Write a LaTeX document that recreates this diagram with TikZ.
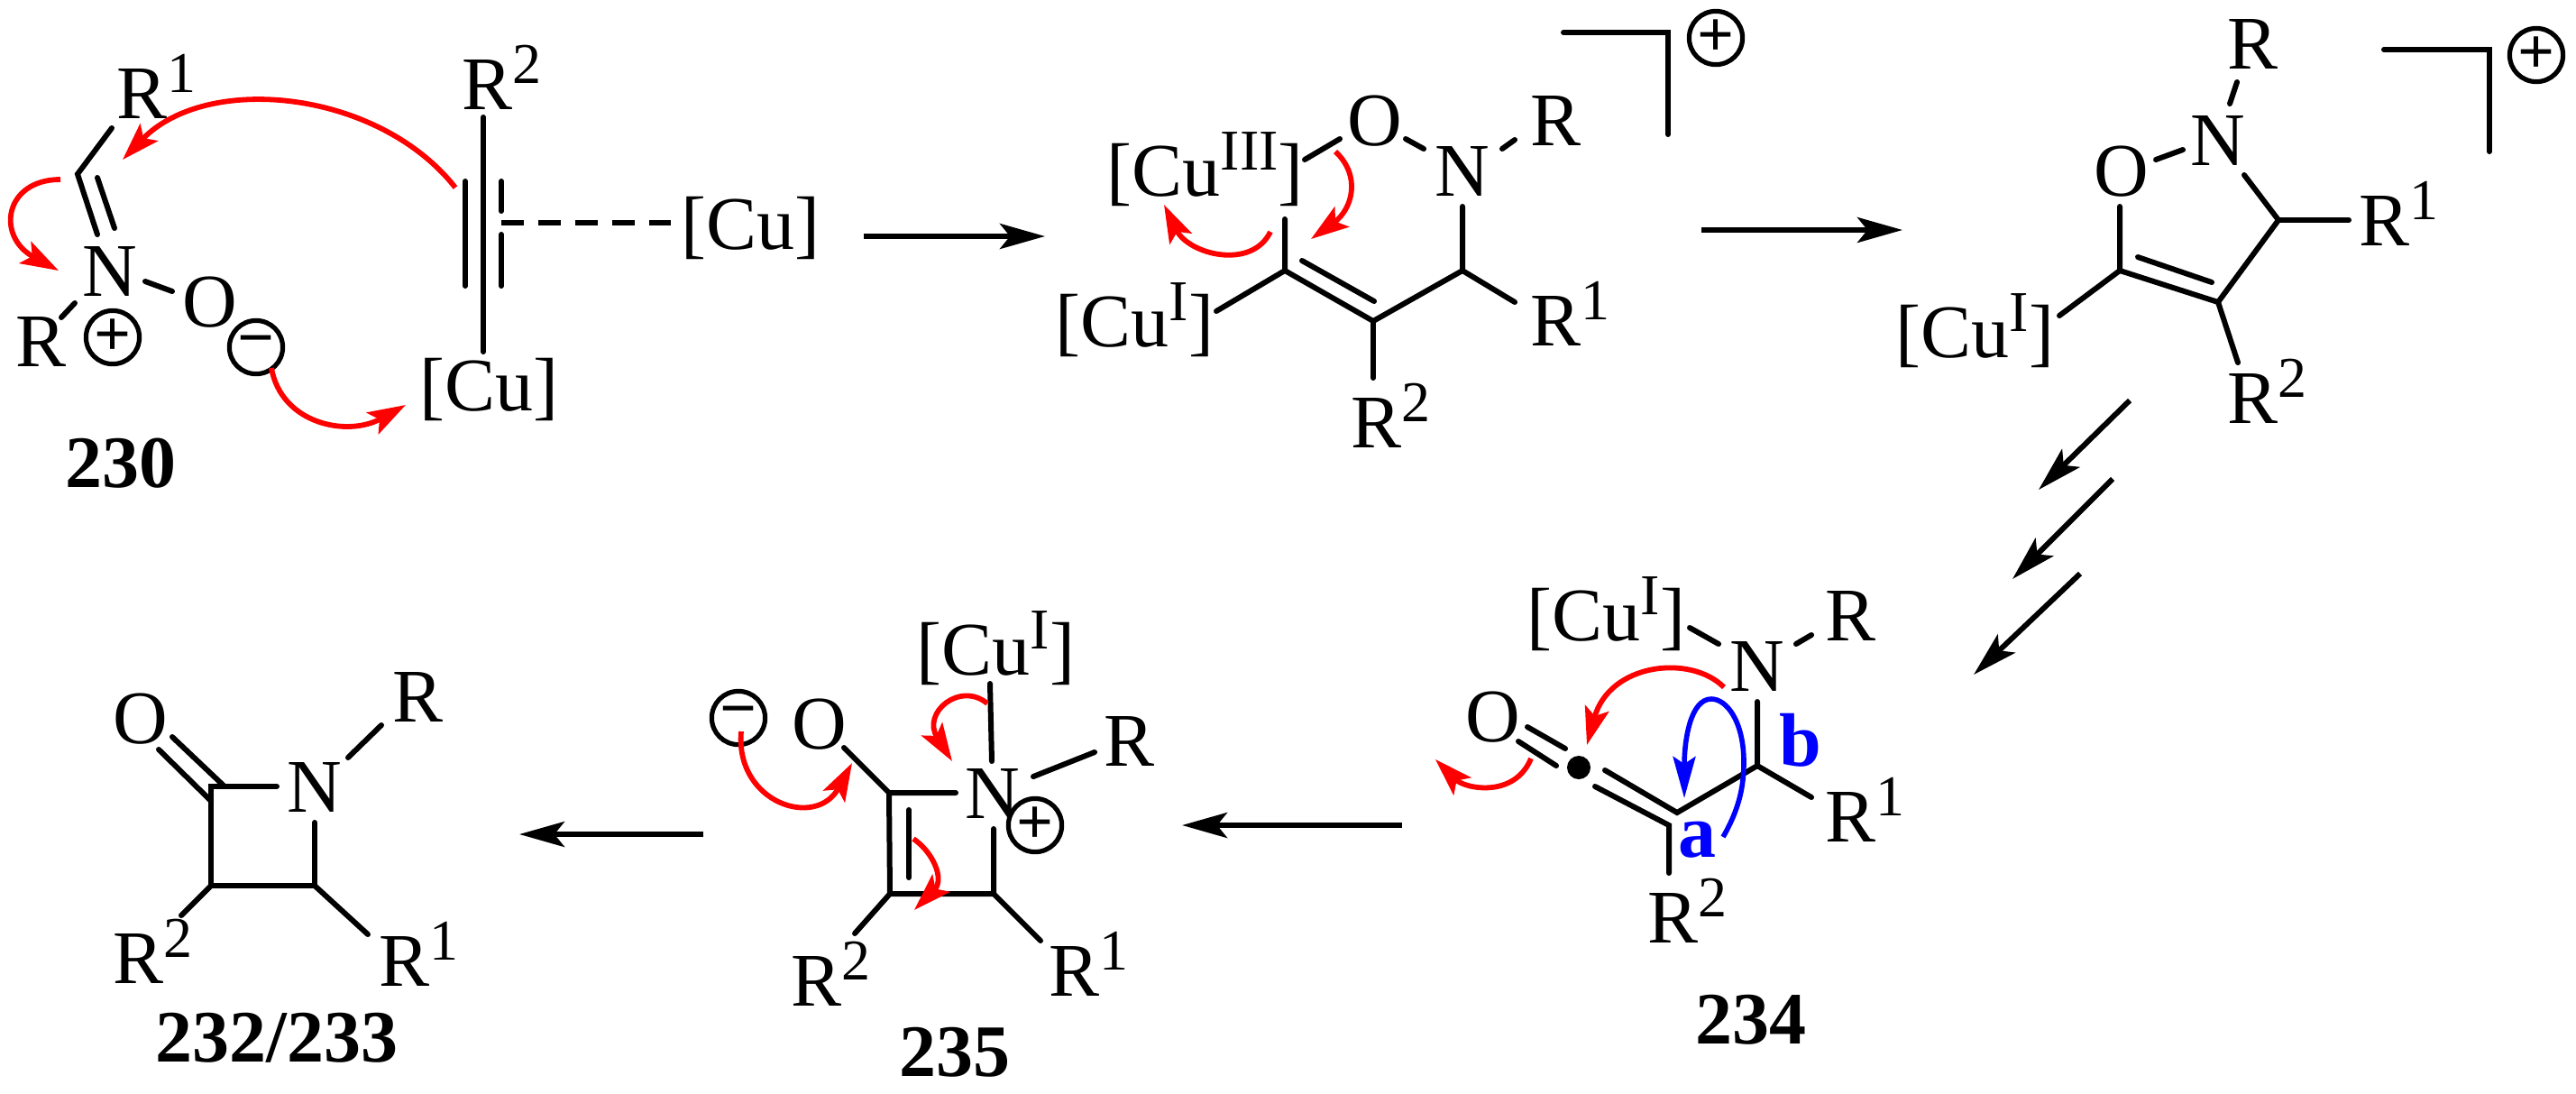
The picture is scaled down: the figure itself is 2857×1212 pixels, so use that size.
\documentclass[tikz,border=0pt]{standalone}
\usepackage{fontspec}
\setmainfont{Liberation Serif}
\usetikzlibrary{arrows.meta}
\definecolor{cred}{RGB}{255,0,0}
\definecolor{cblue}{RGB}{0,0,255}
\newcommand{\Sp}[1]{\raisebox{7.1pt}{\fontsize{16}{16}\selectfont #1}}
\tikzset{
  x=0.25pt,y=-0.25pt,
  atom/.style={anchor=base west,inner sep=0pt,font=\fontsize{21}{24}\selectfont},
  cmpd/.style={anchor=base west,inner sep=0pt,font=\fontsize{20.5}{24}\selectfont\bfseries},
  lett/.style={anchor=base west,inner sep=0pt,text=cblue,font=\fontsize{21}{24}\selectfont\bfseries},
  bond/.style={draw=black,line width=1.5pt,line cap=round,line join=miter},
  dashbond/.style={draw=black,line width=1.6pt,dash pattern=on 6.25pt off 4pt},
  rxn/.style={draw=black,line width=1.5pt,-{Stealth[length=12.5pt,width=7pt,inset=2.8pt]}},
  redarr/.style={draw=cred,line width=1.45pt,-{Stealth[length=10.5pt,width=6.8pt,inset=2.2pt]}},
  bluearr/.style={draw=cblue,line width=1.4pt,-{Stealth[length=11.5pt,width=6.2pt,inset=2pt]}},
  chg/.style={circle,draw=black,line width=1.3pt,inner sep=0pt,minimum size=14.8pt,font=\fontsize{18}{18}\selectfont\bfseries},
}
\begin{document}
\begin{tikzpicture}
\useasboundingbox (0,0) rectangle (2857,1212);
% ---- 230
\node[atom] (a1) at (129,131) {R\Sp{1}};
\node[atom] (a2) at (512,121) {R\Sp{2}};
\node[atom] (a3) at (91,328) {N};
\node[atom] (a4) at (202,362) {O};
\node[atom] (a5) at (17,406) {R};
\node[atom] (a6) at (755,276) {[Cu]};
\node[atom] (a7) at (465,455) {[Cu]};
\node[cmpd] (a8) at (72,540) {230};
\node[chg] (a9) at (125,374) {+};
\node[chg] (a10) at (284,385) {−};
\draw[bond] (124,142) -- (86,193) -- (108,260);
\draw[bond] (108,197) -- (127,253);
\draw[bond] (161,312) -- (191,323);
\draw[bond] (83,336) -- (68,352);
\draw[bond] (536,130) -- (536,390);
\draw[bond] (516,201) -- (516,317);
\draw[bond] (556,201) -- (556,234);
\draw[bond] (556,260) -- (556,317);
\draw[dashbond] (556,247) -- (744,247);
\draw[redarr] (505,208) .. controls (420,100) and (230,80) .. (136,177);
\draw[redarr] (67,199) .. controls (5,199) and (-5,262) .. (65,300);
\draw[redarr] (301,408) .. controls (312,470) and (385,485) .. (450,449);
% ---- intermediate 2
\coordinate (r1s) at (958,262);
\coordinate (r1e) at (1159,262);
\draw[rxn] (r1s) -- (r1e);
\node[atom] (b1) at (1227,217) {[Cu\Sp{III}]};
\node[atom] (b2) at (1494,161) {O};
\node[atom] (b3) at (1591,217) {N};
\node[atom] (b4) at (1697,161) {R};
\node[atom] (b5) at (1170,384) {[Cu\Sp{I}]};
\node[atom] (b6) at (1697,383) {R\Sp{1}};
\node[atom] (b7) at (1498,496) {R\Sp{2}};
\node[chg] (b8) at (1903,42) {+};
\draw[bond] (1734,36) -- (1850,36) -- (1850,149);
\draw[bond] (1447,177) -- (1486,154);
\draw[bond] (1559,154) -- (1579,165);
\draw[bond] (1666,165) -- (1680,155);
\draw[bond] (1622,229) -- (1622,300) -- (1523,356) -- (1425,300) -- (1425,243);
\draw[bond] (1444,289) -- (1524,334);
\draw[bond] (1425,300) -- (1349,345);
\draw[bond] (1622,300) -- (1680,335);
\draw[bond] (1523,356) -- (1523,419);
\draw[redarr] (1409,257) .. controls (1388,300) and (1318,282) .. (1291,227);
\draw[redarr] (1481,168) .. controls (1510,195) and (1500,232) .. (1454,265);
% ---- intermediate 3
\coordinate (r2s) at (1887,255);
\coordinate (r2e) at (2110,255);
\draw[rxn] (r2s) -- (r2e);
\node[atom] (c1) at (2470,76) {R};
\node[atom] (c2) at (2429,183) {N};
\node[atom] (c3) at (2322,217) {O};
\node[atom] (c4) at (2102,396) {[Cu\Sp{I}]};
\node[atom] (c5) at (2616,272) {R\Sp{1}};
\node[atom] (c6) at (2470,469) {R\Sp{2}};
\node[chg] (c7) at (2813,61) {+};
\draw[bond] (2644,55) -- (2761,55) -- (2761,168);
\draw[bond] (2481,91) -- (2473,115);
\draw[bond] (2391,177) -- (2421,166);
\draw[bond] (2489,194) -- (2527,244) -- (2460,335) -- (2351,300) -- (2351,229);
\draw[bond] (2527,244) -- (2605,244);
\draw[bond] (2371,285) -- (2453,313);
\draw[bond] (2351,300) -- (2284,350);
\draw[bond] (2460,335) -- (2482,402);
% ---- triple arrow
\coordinate (r3s) at (2362,444);
\coordinate (r3e) at (2261,543);
\coordinate (r4s) at (2343,531);
\coordinate (r4e) at (2232,642);
\coordinate (r5s) at (2307,636);
\coordinate (r5e) at (2189,748);
\draw[rxn] (r3s) -- (r3e);
\draw[rxn] (r4s) -- (r4e);
\draw[rxn] (r5s) -- (r5e);
% ---- 234
\node[atom] (d1) at (1693,710) {[Cu\Sp{I}]};
\node[atom] (d2) at (1918,766) {N};
\node[atom] (d3) at (2024,710) {R};
\node[atom] (d4) at (2024,933) {R\Sp{1}};
\node[atom] (d5) at (1827,1045) {R\Sp{2}};
\node[atom] (d6) at (1625,822) {O};
\node[cmpd] (d7) at (1880,1157) {234};
\node[lett] (d8) at (1861,950) {a};
\node[lett] (d9) at (1973,849) {b};
\draw[bond] (1874,696) -- (1906,714);
\draw[bond] (1992,714) -- (2009,704);
\draw[bond] (1949,778) -- (1949,849) -- (2009,884);
\draw[bond] (1949,849) -- (1860,901) -- (1780,854);
\draw[bond] (1769,872) -- (1851,915) -- (1851,968);
\draw[bond] (1694,806) -- (1736,830);
\draw[bond] (1684,822) -- (1726,849);
\fill[black] (1751,851) circle[radius=13];
\draw[redarr] (1912,762) .. controls (1875,725) and (1785,735) .. (1760,826);
\draw[redarr] (1698,841) .. controls (1680,885) and (1625,875) .. (1592,842);
\draw[bluearr] (1911,928) .. controls (1930,895) and (1934,870) .. (1934,845)
   .. controls (1934,800) and (1915,775) .. (1898,775)
   .. controls (1875,775) and (1868,820) .. (1868,885);
% ---- 235
\coordinate (r6s) at (1555,915);
\coordinate (r6e) at (1311,915);
\draw[rxn] (r6s) -- (r6e);
\node[atom] (e1) at (1016,748) {[Cu\Sp{I}]};
\node[atom] (e2) at (878,830) {O};
\node[atom] (e3) at (1070,907) {N};
\node[atom] (e4) at (1224,849) {R};
\node[atom] (e5) at (877,1115) {R\Sp{2}};
\node[atom] (e6) at (1163,1104) {R\Sp{1}};
\node[cmpd] (e7) at (997,1193) {235};
\node[chg] (e8) at (819,796) {−};
\node[chg] (e9) at (1148,915) {+};
\draw[bond] (1098,758) -- (1100,844);
\draw[bond] (936,829) -- (986,879) -- (1060,879);
\draw[bond] (1146,861) -- (1214,834);
\draw[bond] (986,879) -- (987,991) -- (1102,991) -- (1102,919);
\draw[bond] (1008,898) -- (1008,973);
\draw[bond] (987,991) -- (948,1035);
\draw[bond] (1102,991) -- (1154,1043);
\draw[redarr] (822,811) .. controls (815,890) and (905,920) .. (945,846);
\draw[redarr] (1095,780) .. controls (1065,755) and (1022,790) .. (1056,844);
\draw[redarr] (1013,930) .. controls (1035,945) and (1048,975) .. (1014,1009);
% ---- 232/233
\coordinate (r7s) at (780,925);
\coordinate (r7e) at (576,925);
\draw[rxn] (r7s) -- (r7e);
\node[atom] (f1) at (125,824) {O};
\node[atom] (f2) at (435,800) {R};
\node[atom] (f3) at (318,900) {N};
\node[atom] (f4) at (125,1090) {R\Sp{2}};
\node[atom] (f5) at (420,1093) {R\Sp{1}};
\node[cmpd] (f6) at (172,1177) {232/233};
\draw[bond] (386,840) -- (423,804);
\draw[bond] (191,817) -- (248,871);
\draw[bond] (176,831) -- (234,888);
\draw[bond] (307,872) -- (234,872) -- (234,982) -- (349,982) -- (349,912);
\draw[bond] (234,982) -- (201,1015);
\draw[bond] (349,982) -- (408,1036);
\end{tikzpicture}
\end{document}
